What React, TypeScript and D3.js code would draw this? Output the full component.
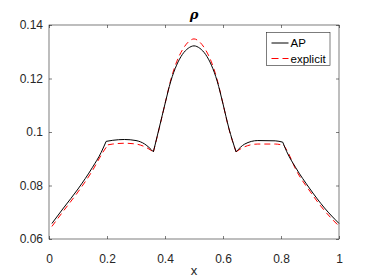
import * as d3 from "d3";
import React, { useEffect, useRef } from "react";

const apX = [
  0.01, 0.05, 0.1, 0.15, 0.18, 0.197, 0.22, 0.26, 0.3, 0.33, 0.36, 0.38, 0.4,
  0.42, 0.44, 0.46, 0.48, 0.5, 0.52, 0.54, 0.56, 0.58, 0.6, 0.62, 0.645, 0.675,
  0.72, 0.78, 0.806, 0.82, 0.85, 0.9, 0.95, 1.0,
];
const apY = [
  0.0658, 0.0716, 0.0787, 0.0868, 0.0924, 0.0965, 0.0969, 0.0972, 0.0968,
  0.0955, 0.0926, 0.1015, 0.1105, 0.119, 0.125, 0.129, 0.1313, 0.1322,
  0.1313, 0.129, 0.125, 0.119, 0.1105, 0.1015, 0.0926, 0.0955, 0.0968,
  0.0967, 0.0962, 0.0926, 0.0868, 0.0787, 0.0716, 0.0658,
];
const apCorners = [0.197, 0.36, 0.645, 0.806];

const explicitX = [
  0.01, 0.05, 0.1, 0.15, 0.185, 0.203, 0.22, 0.26, 0.3, 0.33, 0.36, 0.38, 0.4,
  0.42, 0.44, 0.46, 0.48, 0.5, 0.52, 0.54, 0.56, 0.58, 0.6, 0.62, 0.645, 0.675,
  0.72, 0.78, 0.81, 0.825, 0.85, 0.9, 0.95, 1.0,
];
const explicitY = [
  0.0647, 0.0705, 0.0776, 0.0856, 0.0923, 0.0952, 0.0955, 0.0958, 0.0955,
  0.0945, 0.0926, 0.1013, 0.1105, 0.1195, 0.1262, 0.1307, 0.1336, 0.1348,
  0.1336, 0.1307, 0.1262, 0.1195, 0.1105, 0.1013, 0.0926, 0.0945, 0.0955,
  0.0955, 0.095, 0.0922, 0.0862, 0.0778, 0.0706, 0.0648,
];
const explicitCorners = [0.203, 0.36, 0.645, 0.81];

const xTicks = [0, 0.2, 0.4, 0.6, 0.8, 1];
const yTicks = [0.06, 0.08, 0.1, 0.12, 0.14];
const seriesNames = ["AP", "explicit"];

const W = 374;
const H = 280;
const AXIS = "#262626";
const FONT = "'Liberation Sans', Arial, Helvetica, sans-serif";

// split a polyline into smooth pieces that meet at the sharp corners
function pieces(xs: number[], ys: number[], corners: number[]) {
  const out: [number, number][][] = [];
  let cur: [number, number][] = [];
  xs.forEach((v, i) => {
    cur.push([v, ys[i]]);
    if (corners.includes(v)) {
      out.push(cur);
      cur = [[v, ys[i]]];
    }
  });
  out.push(cur);
  return out;
}

const App: React.FC = () => {
  const svgRef = useRef<SVGSVGElement>(null);

  useEffect(() => {
    if (!svgRef.current) return;
    const margin = { top: 25, right: 35, bottom: 41, left: 49 };
    const pw = W - margin.left - margin.right;
    const ph = H - margin.top - margin.bottom;

    const svg = d3.select(svgRef.current);
    svg.selectAll("*").remove();
    svg.append("rect").attr("width", W).attr("height", H).attr("fill", "#fff");

    const g = svg
      .append("g")
      .attr("transform", `translate(${margin.left},${margin.top})`);

    const x = d3.scaleLinear().domain([0, 1]).range([0, pw]);
    const y = d3.scaleLinear().domain([0.06, 0.14]).range([ph, 0]);

    const fmt = (d: d3.NumberValue) => String(+d);

    // axes: ticks inside, box on all sides
    const styleAxis = (sel: d3.Selection<SVGGElement, unknown, null, undefined>) => {
      sel.select(".domain").remove();
      sel.selectAll(".tick line").attr("stroke", AXIS).attr("stroke-width", 0.6);
      sel
        .selectAll(".tick text")
        .attr("fill", AXIS)
        .style("font-family", FONT)
        .style("font-size", "12px");
    };

    g.append("g")
      .attr("transform", `translate(0,${ph})`)
      .call(d3.axisBottom(x).tickValues(xTicks).tickSize(-3).tickPadding(15).tickFormat(fmt))
      .call(styleAxis);
    g.append("g")
      .call(d3.axisTop(x).tickValues(xTicks).tickSize(-3).tickFormat(() => ""))
      .call(styleAxis);
    g.append("g")
      .call(d3.axisLeft(y).tickValues(yTicks).tickSize(-3).tickPadding(6).tickFormat(fmt))
      .call(styleAxis);
    g.append("g")
      .attr("transform", `translate(${pw},0)`)
      .call(d3.axisRight(y).tickValues(yTicks).tickSize(-3).tickFormat(() => ""))
      .call(styleAxis);

    g.append("rect")
      .attr("width", pw)
      .attr("height", ph)
      .attr("fill", "none")
      .attr("stroke", AXIS)
      .attr("stroke-width", 0.6);

    const line = d3
      .line<[number, number]>()
      .x((d) => x(d[0]))
      .y((d) => y(d[1]))
      .curve(d3.curveMonotoneX);

    const pathOf = (xs: number[], ys: number[], corners: number[]) =>
      pieces(xs, ys, corners)
        .map((p) => line(p) || "")
        .join("");

    g.append("path")
      .attr("d", pathOf(explicitX, explicitY, explicitCorners))
      .attr("fill", "none")
      .attr("stroke", "#ff0000")
      .attr("stroke-width", 1)
      .attr("stroke-dasharray", "6,4");

    g.append("path")
      .attr("d", pathOf(apX, apY, apCorners))
      .attr("fill", "none")
      .attr("stroke", "#000")
      .attr("stroke-width", 1);

    // Title
    svg
      .append("text")
      .attr("x", margin.left + pw / 2)
      .attr("y", 19)
      .attr("text-anchor", "middle")
      .attr("fill", "#000")
      .style("font-family", "'DejaVu Serif', serif")
      .style("font-size", "13px")
      .style("font-weight", "bold")
      .style("font-style", "italic")
      .text("ρ");

    // X label
    svg
      .append("text")
      .attr("x", margin.left + pw / 2)
      .attr("y", 275)
      .attr("text-anchor", "middle")
      .attr("fill", AXIS)
      .style("font-family", FONT)
      .style("font-size", "13px")
      .text("x");

    // Legend
    const lg = svg.append("g").attr("transform", "translate(266.5,32.5)");
    lg.append("rect")
      .attr("width", 63.5)
      .attr("height", 33)
      .attr("fill", "#fff")
      .attr("stroke", AXIS)
      .attr("stroke-width", 0.6);
    const items = lg
      .selectAll("g.item")
      .data(seriesNames)
      .join("g")
      .attr("class", "item")
      .attr("transform", (d, i) => `translate(0,${10.5 + i * 15.5})`);
    items
      .append("line")
      .attr("x1", 5)
      .attr("x2", 22)
      .attr("stroke", (d, i) => (i === 0 ? "#000" : "#ff0000"))
      .attr("stroke-width", 1)
      .attr("stroke-dasharray", (d, i) => (i === 0 ? null : "7,4"));
    items
      .append("text")
      .attr("x", 24)
      .attr("dy", "0.35em")
      .attr("fill", "#000")
      .style("font-family", FONT)
      .style("font-size", "11.5px")
      .text((d) => d);
  }, []);

  return (
    <svg
      ref={svgRef}
      width={W}
      height={H}
      style={{ position: "absolute", left: 0, top: 0 }}
    />
  );
};

export default App;
